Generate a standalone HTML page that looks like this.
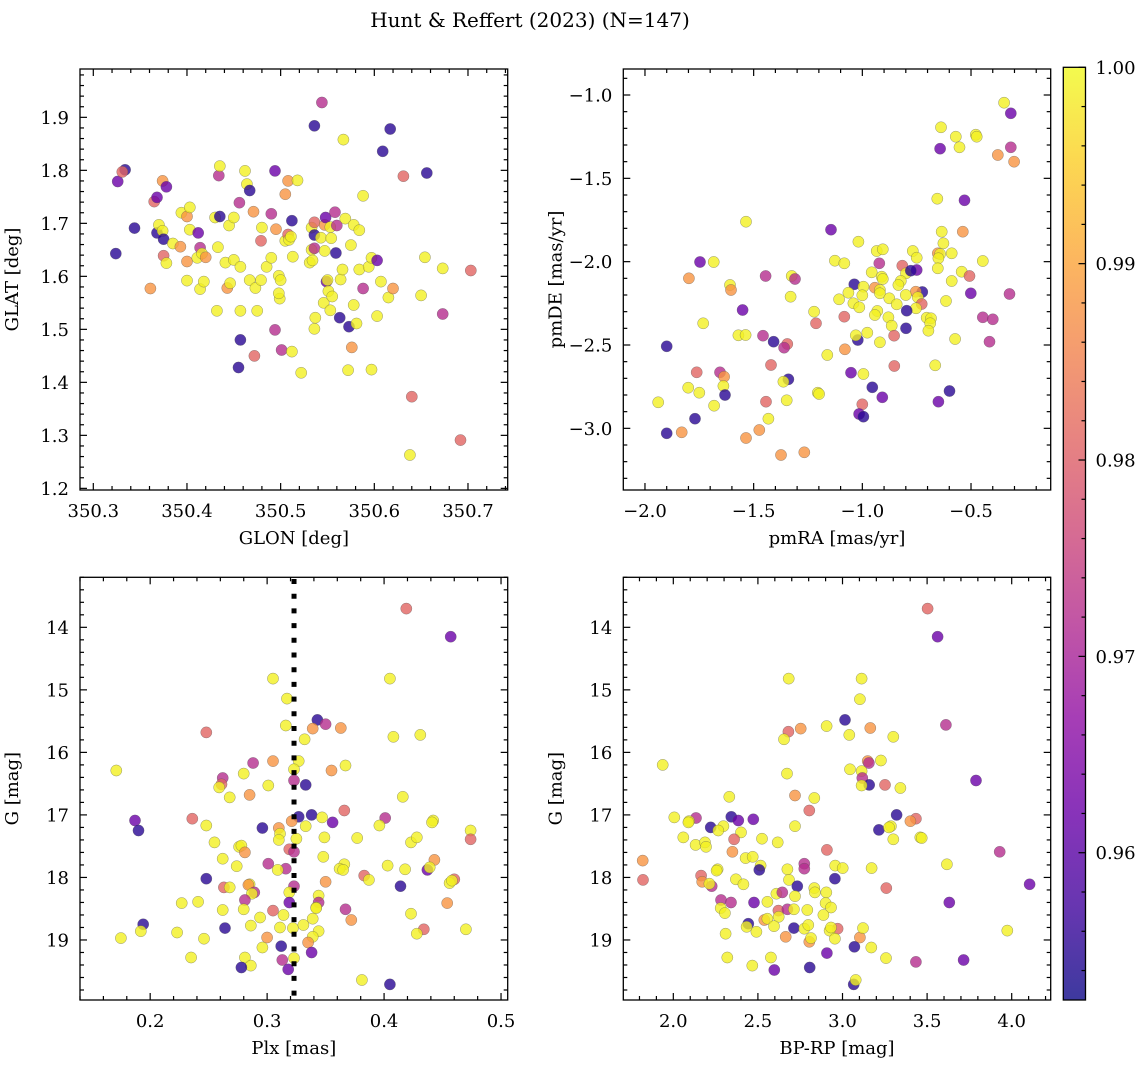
<!DOCTYPE html>
<html><head><meta charset="utf-8"><style>
html,body{margin:0;padding:0;background:#fff;}
svg{display:block;font-family:"DejaVu Serif","Liberation Serif",serif;}
</style></head><body>
<svg id="fig" width="1148" height="1067" viewBox="0 0 1148 1067" xmlns="http://www.w3.org/2000/svg">
<defs>
<linearGradient id="cbgrad" x1="0" y1="1" x2="0" y2="0">
<stop offset="0" stop-color="#0d0887"/><stop offset="0.1" stop-color="#41049d"/><stop offset="0.2" stop-color="#6a00a8"/><stop offset="0.3" stop-color="#8f0da4"/><stop offset="0.4" stop-color="#b12a90"/><stop offset="0.5" stop-color="#cc4778"/><stop offset="0.6" stop-color="#e16462"/><stop offset="0.7" stop-color="#f2844b"/><stop offset="0.8" stop-color="#fca636"/><stop offset="0.9" stop-color="#fcce25"/><stop offset="1" stop-color="#f0f921"/>
</linearGradient>
</defs>
<text x="530" y="27" font-size="20" text-anchor="middle">Hunt &amp; Reffert (2023) (N=147)</text>
</svg>
<script>
// ---- Panel 1: GLON / GLAT ----
const glon=[350.324,350.326,350.334,350.331,350.344,350.361,350.365,350.368,350.368,350.370,350.374,350.378,350.374,350.375,350.375,350.378,350.385,350.393,350.394,350.400,350.403,350.403,350.400,350.400,350.412,350.414,350.414,350.411,350.416,350.418,350.420,350.430,350.432,350.434,350.435,350.433,350.435,350.441,350.443,350.445,350.446,350.450,350.450,350.456,350.457,350.457,350.457,350.455,350.462,350.464,350.467,350.467,350.471,350.472,350.473,350.475,350.479,350.479,350.480,350.485,350.490,350.490,350.494,350.494,350.495,350.498,350.499,350.500,350.498,350.501,350.505,350.505,350.508,350.509,350.511,350.512,350.512,350.513,350.508,350.518,350.522,350.533,350.531,350.533,350.534,350.536,350.536,350.536,350.536,350.537,350.536,350.544,350.543,350.546,350.547,350.548,350.549,350.547,350.550,350.551,350.553,350.554,350.555,350.553,350.558,350.560,350.559,350.563,350.564,350.566,350.567,350.569,350.573,350.575,350.576,350.572,350.578,350.578,350.581,350.584,350.584,350.588,350.588,350.594,350.597,350.597,350.603,350.603,350.607,350.609,350.615,350.617,350.620,350.631,350.640,350.638,350.650,350.654,350.656,350.673,350.673,350.692,350.703];
const glat=[1.643,1.779,1.801,1.797,1.691,1.577,1.741,1.749,1.682,1.697,1.780,1.769,1.686,1.670,1.639,1.625,1.662,1.656,1.720,1.713,1.730,1.688,1.592,1.628,1.682,1.654,1.576,1.635,1.643,1.590,1.636,1.711,1.535,1.790,1.808,1.655,1.713,1.626,1.578,1.696,1.587,1.711,1.631,1.739,1.618,1.535,1.480,1.428,1.799,1.774,1.762,1.593,1.722,1.450,1.578,1.535,1.593,1.667,1.692,1.618,1.635,1.718,1.799,1.499,1.689,1.601,1.558,1.593,1.568,1.461,1.667,1.755,1.679,1.669,1.675,1.705,1.458,1.637,1.780,1.781,1.418,1.692,1.626,1.650,1.630,1.678,1.702,1.653,1.884,1.522,1.501,1.928,1.673,1.550,1.697,1.711,1.590,1.648,1.593,1.572,1.693,1.672,1.562,1.536,1.721,1.696,1.644,1.522,1.594,1.613,1.858,1.709,1.505,1.659,1.466,1.423,1.697,1.546,1.511,1.687,1.613,1.577,1.752,1.618,1.635,1.424,1.630,1.525,1.590,1.836,1.560,1.878,1.577,1.789,1.373,1.263,1.564,1.636,1.795,1.615,1.529,1.291,1.611];
const memb1=[.955,.962,.955,.981,.955,.988,.981,.962,.955,.999,.988,.962,.999,.955,.981,.999,.999,.988,.999,.988,.999,.999,.999,.988,.962,.972,.999,.999,.999,.999,.988,.999,.999,.972,.999,.999,.955,.999,.988,.999,.999,.999,.999,.972,.999,.999,.955,.955,.999,.999,.955,.999,.988,.981,.999,.999,.999,.981,.999,.999,.999,.972,.962,.972,.988,.999,.999,.999,.999,.972,.999,.988,.981,.999,.999,.955,.999,.999,.988,.999,.999,.999,.999,.999,.999,.955,.981,.972,.955,.999,.999,.972,.999,.999,.988,.962,.962,.999,.999,.999,.999,.999,.999,.999,.972,.972,.955,.955,.999,.999,.999,.999,.955,.999,.988,.999,.999,.999,.999,.999,.999,.972,.999,.999,.999,.999,.962,.999,.999,.955,.999,.955,.988,.981,.981,.999,.999,.999,.955,.999,.972,.981,.981];

// ---- Panel 2: pmRA / pmDE ----
const pmra=[-0.348,-0.317,-0.638,-0.570,-0.478,-0.474,-0.553,-0.642,-0.317,-0.377,-0.302,-0.655,-0.530,-1.535,-1.144,-0.635,-0.538,-1.018,-0.627,-0.934,-0.906,-0.768,-0.653,-0.642,-0.589,-0.750,-0.650,-1.747,-1.684,-1.126,-1.083,-0.922,-0.446,-0.816,-0.750,-0.653,-0.799,-0.777,-0.957,-1.798,-1.445,-1.325,-1.310,-1.609,-0.543,-0.507,-0.911,-0.906,-0.823,-0.589,-1.037,-0.995,-0.834,-0.942,-0.919,-1.604,-0.724,-1.064,-0.919,-0.754,-1.330,-1.000,-0.800,-0.745,-1.107,-0.876,-0.501,-0.323,-1.041,-0.842,-0.615,-1.014,-0.727,-0.753,-1.551,-1.222,-0.931,-0.796,-0.942,-1.083,-0.880,-0.704,-0.684,-0.446,-0.400,-1.732,-1.213,-0.688,-0.865,-0.799,-0.696,-1.570,-1.537,-1.457,-0.977,-1.021,-1.030,-0.854,-0.573,-1.408,-1.345,-1.360,-0.919,-0.415,-1.900,-1.161,-1.080,-1.420,-0.853,-0.665,-1.762,-1.655,-1.636,-1.052,-0.995,-1.340,-1.363,-1.639,-1.801,-1.750,-1.632,-1.205,-1.199,-0.954,-0.908,-0.599,-0.650,-1.939,-1.682,-1.443,-1.348,-1.000,-1.015,-0.995,-1.770,-1.432,-1.900,-1.831,-1.474,-1.535,-1.374,-1.267];
const pmde=[-1.046,-1.110,-1.194,-1.250,-1.238,-1.250,-1.314,-1.322,-1.314,-1.360,-1.400,-1.622,-1.632,-1.760,-1.808,-1.820,-1.820,-1.880,-1.890,-1.936,-1.926,-1.936,-1.950,-1.954,-1.950,-1.976,-1.980,-2.002,-2.002,-1.994,-2.010,-2.010,-1.996,-2.024,-2.050,-2.040,-2.070,-2.054,-2.064,-2.100,-2.086,-2.086,-2.104,-2.140,-2.060,-2.086,-2.090,-2.104,-2.116,-2.116,-2.136,-2.150,-2.140,-2.156,-2.170,-2.170,-2.182,-2.186,-2.190,-2.180,-2.210,-2.202,-2.200,-2.214,-2.226,-2.220,-2.190,-2.194,-2.250,-2.256,-2.236,-2.274,-2.254,-2.280,-2.290,-2.300,-2.296,-2.294,-2.320,-2.330,-2.334,-2.336,-2.340,-2.334,-2.346,-2.370,-2.370,-2.370,-2.384,-2.400,-2.414,-2.442,-2.440,-2.444,-2.426,-2.470,-2.442,-2.444,-2.464,-2.480,-2.494,-2.516,-2.484,-2.480,-2.508,-2.560,-2.526,-2.620,-2.626,-2.622,-2.664,-2.664,-2.690,-2.666,-2.674,-2.706,-2.720,-2.746,-2.756,-2.786,-2.800,-2.786,-2.794,-2.754,-2.814,-2.776,-2.840,-2.844,-2.864,-2.840,-2.832,-2.856,-2.914,-2.930,-2.942,-2.942,-3.030,-3.024,-3.010,-3.058,-3.160,-3.144];
const memb2=[.999,.962,.999,.999,.999,.999,.999,.962,.972,.988,.988,.999,.962,.999,.962,.999,.988,.999,.999,.999,.999,.999,.988,.999,.999,.999,.999,.962,.999,.999,.999,.972,.999,.981,.962,.999,.999,.955,.999,.988,.972,.999,.972,.999,.999,.981,.999,.999,.999,.999,.955,.999,.999,.988,.999,.988,.955,.999,.999,.988,.999,.999,.999,.999,.999,.999,.962,.972,.999,.999,.999,.999,.981,.999,.962,.999,.999,.955,.999,.981,.999,.999,.999,.972,.972,.999,.981,.999,.999,.955,.999,.999,.999,.972,.999,.955,.999,.981,.999,.955,.981,.972,.999,.972,.955,.999,.988,.981,.981,.999,.981,.972,.988,.962,.999,.955,.999,.999,.999,.999,.955,.999,.999,.955,.962,.955,.962,.999,.999,.981,.999,.981,.962,.955,.955,.999,.955,.988,.988,.988,.988,.988];

// ---- Panel 3: Plx / G ----
const plx=[0.419,0.457,0.305,0.405,0.317,0.343,0.350,0.339,0.363,0.316,0.248,0.332,0.408,0.431,0.171,0.288,0.305,0.327,0.367,0.323,0.355,0.280,0.262,0.261,0.259,0.323,0.333,0.301,0.268,0.285,0.416,0.366,0.187,0.190,0.236,0.248,0.327,0.321,0.338,0.333,0.347,0.356,0.401,0.396,0.442,0.441,0.474,0.474,0.296,0.310,0.311,0.310,0.325,0.349,0.377,0.255,0.276,0.278,0.281,0.423,0.428,0.319,0.323,0.348,0.262,0.274,0.301,0.316,0.309,0.366,0.362,0.365,0.403,0.443,0.418,0.437,0.439,0.248,0.383,0.387,0.350,0.323,0.414,0.460,0.456,0.458,0.263,0.268,0.285,0.284,0.289,0.287,0.319,0.319,0.344,0.344,0.227,0.241,0.281,0.280,0.262,0.305,0.314,0.342,0.342,0.367,0.372,0.454,0.423,0.194,0.192,0.223,0.264,0.286,0.294,0.311,0.322,0.331,0.339,0.434,0.428,0.175,0.246,0.300,0.344,0.339,0.335,0.470,0.296,0.312,0.338,0.235,0.281,0.286,0.313,0.278,0.318,0.323,0.381,0.405];
const gmag3=[13.70,14.15,14.82,14.82,15.14,15.48,15.55,15.62,15.61,15.57,15.68,15.79,15.75,15.72,16.29,16.17,16.14,16.14,16.21,16.27,16.29,16.34,16.41,16.51,16.56,16.45,16.52,16.53,16.72,16.68,16.71,16.93,17.09,17.25,17.06,17.17,17.03,17.10,17.00,17.18,17.04,17.12,17.05,17.17,17.09,17.12,17.25,17.39,17.21,17.21,17.30,17.40,17.38,17.36,17.37,17.44,17.51,17.49,17.60,17.44,17.36,17.55,17.59,17.67,17.70,17.82,17.78,17.86,17.88,17.79,17.86,17.88,17.81,17.72,17.87,17.88,17.84,18.02,17.97,18.04,18.07,18.14,18.14,18.03,18.09,18.05,18.16,18.16,18.11,18.12,18.24,18.26,18.24,18.40,18.29,18.40,18.41,18.39,18.36,18.51,18.52,18.53,18.60,18.48,18.49,18.51,18.68,18.41,18.58,18.75,18.86,18.88,18.81,18.77,18.64,18.80,18.81,18.76,18.66,18.83,18.90,18.97,18.98,18.96,18.86,18.95,19.04,18.83,19.12,19.10,19.20,19.28,19.28,19.41,19.32,19.44,19.47,19.29,19.64,19.71];
const memb3=[.981,.962,.999,.999,.999,.955,.972,.988,.988,.999,.981,.999,.999,.999,.999,.972,.988,.999,.999,.999,.988,.999,.972,.981,.999,.972,.955,.999,.999,.988,.999,.981,.962,.955,.981,.999,.955,.988,.955,.999,.999,.962,.972,.999,.999,.999,.999,.981,.955,.988,.999,.999,.999,.999,.999,.999,.999,.999,.988,.999,.999,.981,.972,.999,.999,.999,.972,.972,.999,.999,.999,.999,.999,.988,.999,.962,.999,.955,.981,.999,.988,.972,.955,.981,.999,.999,.981,.999,.999,.988,.972,.999,.999,.962,.999,.972,.999,.999,.972,.999,.999,.981,.999,.999,.999,.972,.988,.988,.999,.955,.999,.999,.955,.999,.999,.999,.999,.999,.999,.981,.999,.999,.999,.988,.999,.999,.988,.999,.999,.955,.962,.999,.999,.999,.972,.955,.962,.999,.999,.955];

// ---- Panel 4: BP-RP / G ----
const bprp=[3.503,3.562,2.682,3.113,3.103,3.015,3.611,2.680,2.753,2.654,2.906,3.164,3.040,3.300,1.937,3.149,3.227,3.156,3.044,3.113,2.672,3.117,3.158,3.113,3.251,3.342,3.789,2.719,2.833,2.331,2.804,3.320,2.006,2.134,2.093,2.089,2.343,2.384,2.473,2.221,2.296,2.266,2.400,2.719,3.215,3.286,3.275,3.434,3.401,3.300,3.460,3.468,2.059,2.132,2.187,2.193,2.359,2.524,2.617,2.908,3.929,1.819,2.349,2.427,2.469,2.516,2.508,2.262,2.256,2.674,2.774,2.774,2.957,3.001,3.172,3.617,1.821,2.164,2.171,2.227,2.213,2.370,2.414,2.684,2.733,2.955,2.833,2.837,2.904,3.259,4.106,2.282,2.341,2.280,2.305,2.477,2.556,2.609,2.644,2.719,2.900,2.932,3.631,2.621,2.674,2.713,2.792,2.887,2.443,2.433,2.491,2.538,2.556,2.623,2.595,2.713,2.774,2.798,2.804,2.814,2.971,2.924,2.932,2.955,3.103,3.121,2.309,2.664,3.070,3.170,3.974,2.908,2.319,2.577,2.467,2.597,2.806,3.257,3.434,3.716,3.066,3.078];
const gmag4=[13.70,14.15,14.82,14.82,15.15,15.48,15.56,15.67,15.62,15.79,15.58,15.61,15.72,15.75,16.20,16.14,16.13,16.17,16.27,16.30,16.34,16.41,16.52,16.53,16.52,16.57,16.45,16.69,16.73,16.71,16.93,17.00,17.04,17.05,17.10,17.12,17.03,17.09,17.07,17.20,17.18,17.25,17.28,17.18,17.24,17.18,17.20,17.06,17.10,17.39,17.36,17.37,17.36,17.48,17.44,17.51,17.39,17.38,17.44,17.56,17.59,17.73,17.59,17.69,17.67,17.81,17.88,17.87,17.89,17.87,17.78,17.86,17.81,17.85,17.85,17.79,18.04,17.97,18.07,18.14,18.10,18.03,18.11,18.04,18.14,18.02,18.17,18.24,18.24,18.17,18.11,18.36,18.40,18.49,18.57,18.40,18.39,18.26,18.24,18.30,18.41,18.48,18.40,18.53,18.51,18.51,18.52,18.60,18.74,18.79,18.87,18.68,18.66,18.63,18.78,18.81,18.82,18.76,19.03,18.97,18.82,18.85,18.80,18.98,18.96,18.81,18.90,18.95,19.11,19.12,18.85,19.21,19.28,19.28,19.41,19.48,19.44,19.29,19.35,19.32,19.71,19.64];
const memb4=[.981,.962,.999,.999,.999,.955,.972,.981,.988,.999,.999,.988,.999,.999,.999,.988,.999,.972,.999,.999,.999,.972,.955,.999,.981,.999,.962,.988,.999,.999,.981,.955,.999,.972,.999,.999,.955,.962,.962,.955,.999,.999,.999,.999,.955,.999,.999,.981,.988,.999,.999,.999,.999,.999,.999,.999,.981,.999,.999,.981,.972,.988,.988,.999,.999,.999,.955,.999,.999,.999,.972,.972,.999,.999,.999,.999,.981,.981,.988,.972,.999,.999,.999,.999,.955,.955,.999,.999,.999,.981,.962,.972,.972,.999,.999,.962,.999,.999,.972,.999,.999,.999,.962,.981,.972,.999,.999,.999,.955,.999,.999,.988,.999,.999,.999,.955,.999,.999,.988,.999,.981,.999,.999,.999,.988,.999,.999,.988,.955,.999,.999,.962,.999,.999,.999,.962,.955,.999,.972,.962,.955,.999];

const plxRef=[0.323];
const cbTicks=[0.96,0.97,0.98,0.99,1.00];
const cMin=0.9525, cMax=1.0;

const NS='http://www.w3.org/2000/svg';
const svg=document.getElementById('fig');
function mk(tag,attrs,parent){const e=document.createElementNS(NS,tag);for(const k in attrs)e.setAttribute(k,attrs[k]);(parent||svg).appendChild(e);return e;}
const stops=[[13,8,135],[65,4,157],[106,0,168],[143,13,164],[177,42,144],[204,71,120],[225,100,98],[242,132,75],[252,166,54],[252,206,37],[240,249,33]];
function plasma(v){let t=(v-cMin)/(cMax-cMin);t=Math.max(0,Math.min(1,t))*10;const i=Math.min(9,Math.floor(t)),f=t-i;const a=stops[i],b=stops[i+1];return 'rgb('+[0,1,2].map(j=>Math.round(a[j]+(b[j]-a[j])*f)).join(',')+')';}
function fmt(v,d){const s=Math.abs(v).toFixed(d);return (v<-1e-9?'\u2212':'')+s;}
function isMult(v,s){return Math.abs(Math.round(v/s)*s-v)<1e-7;}

function panel(o){
  const g=mk('g',{});
  
  
  const sx=v=>o.L+(v-o.xmin)/(o.xmax-o.xmin)*(o.R-o.L);
  const sy=o.inv?(v=>o.T+(v-o.ymin)/(o.ymax-o.ymin)*(o.B-o.T)):(v=>o.B-(v-o.ymin)/(o.ymax-o.ymin)*(o.B-o.T));
  o.sx=sx;o.sy=sy;
  const pts=mk('g',{},g);
  
  
  for(let i=0;i<o.xs.length;i++){
    const c=mk('circle',{cx:sx(o.xs[i]).toFixed(1),cy:sy(o.ys[i]).toFixed(1),r:5.6,fill:plasma(o.ms[i]),'fill-opacity':0.8,stroke:'#555','stroke-opacity':0.6,'stroke-width':0.5},pts);
    
    
  }
  if(o.extra)o.extra(g,sx,sy);
  // ticks x
  const tg=mk('g',{stroke:'#000','stroke-width':1.2},g);
  const n0=Math.ceil(o.xmin/o.xminor-1e-9),n1=Math.floor(o.xmax/o.xminor+1e-9);
  for(let k=n0;k<=n1;k++){const v=k*o.xminor;const maj=isMult(v,o.xmajor);const len=maj?7:4;const x=sx(v);
    mk('line',{x1:x,y1:o.B,x2:x,y2:o.B-len},tg);mk('line',{x1:x,y1:o.T,x2:x,y2:o.T+len},tg);
    if(maj){const t=mk('text',{x:x,y:o.B+27,'font-size':18,'text-anchor':'middle',stroke:'none',fill:'#000'},g);t.textContent=fmt(v,o.xd);
      }
  }
  const m0=Math.ceil(o.ymin/o.yminor-1e-9),m1=Math.floor(o.ymax/o.yminor+1e-9);
  for(let k=m0;k<=m1;k++){const v=k*o.yminor;const maj=isMult(v,o.ymajor);const len=maj?7:4;const y=sy(v);
    mk('line',{x1:o.L,y1:y,x2:o.L+len,y2:y},tg);mk('line',{x1:o.R,y1:y,x2:o.R-len,y2:y},tg);
    if(maj){const t=mk('text',{x:o.L-11,y:y+6.5,'font-size':18,'text-anchor':'end',stroke:'none',fill:'#000'},g);t.textContent=fmt(v,o.yd);
      }
  }
  const fr=mk('rect',{x:o.L,y:o.T,width:o.R-o.L,height:o.B-o.T,fill:'none',stroke:'#000','stroke-width':1.3},g);
  
  const xl=mk('text',{x:(o.L+o.R)/2,y:o.B+54,'font-size':18,'text-anchor':'middle'},g);xl.textContent=o.xlabel;
  
  const yx=o.L-62,yy=(o.T+o.B)/2;
  const yl=mk('text',{x:yx,y:yy,'font-size':18,'text-anchor':'middle',transform:'rotate(-90 '+yx+' '+yy+')'},g);yl.textContent=o.ylabel;
  
}

panel({name:'glon-glat-panel',L:80,R:507.7,T:69,B:490,xmin:350.2858,xmax:350.7424,ymin:1.1969,ymax:1.9912,xs:glon,ys:glat,ms:memb1,xmajor:0.1,xminor:0.02,ymajor:0.1,yminor:0.02,xd:1,yd:1,xlabel:'GLON [deg]',ylabel:'GLAT [deg]'});
panel({name:'pm-panel',L:623.3,R:1050.7,T:69,B:490,xmin:-2.0997,xmax:-0.1334,ymin:-3.37,ymax:-0.844,xs:pmra,ys:pmde,ms:memb2,xmajor:0.5,xminor:0.1,ymajor:0.5,yminor:0.1,xd:1,yd:1,xlabel:'pmRA [mas/yr]',ylabel:'pmDE [mas/yr]'});
panel({name:'plx-g-panel',L:80,R:507.7,T:577.3,B:1000,inv:true,xmin:0.140,xmax:0.5057,ymin:13.2,ymax:19.96,xs:plx,ys:gmag3,ms:memb3,xmajor:0.1,xminor:0.02,ymajor:1,yminor:0.2,xd:1,yd:0,xlabel:'Plx [mas]',ylabel:'G [mag]',
  extra:(g,sx,sy)=>{for(const v of plxRef){const l=mk('line',{x1:sx(v),y1:579,x2:sx(v),y2:1000,stroke:'#000','stroke-width':5,'stroke-dasharray':'5,9.7'},g);
    }}});
panel({name:'cmd-panel',L:623.3,R:1050.7,T:577.3,B:1000,inv:true,xmin:1.7044,xmax:4.2305,ymin:13.2,ymax:19.96,xs:bprp,ys:gmag4,ms:memb4,xmajor:0.5,xminor:0.1,ymajor:1,yminor:0.2,xd:1,yd:0,xlabel:'BP-RP [mag]',ylabel:'G [mag]'});

// colorbar
const cb=mk('g',{});


const cL=1063.3,cR=1085.5,cT=67.3,cB=1000;
mk('rect',{x:cL,y:cT,width:cR-cL,height:cB-cT,fill:'url(#cbgrad)','fill-opacity':0.8},cb);
mk('rect',{x:cL,y:cT,width:cR-cL,height:cB-cT,fill:'none',stroke:'#000','stroke-width':1.3},cb);
const cy=v=>cB-(v-cMin)/(cMax-cMin)*(cB-cT);
for(let k=Math.ceil(cMin/0.002-1e-9);k<=Math.floor(cMax/0.002+1e-9);k++){const v=k*0.002;const maj=isMult(v,0.01);const y=cy(v);
  mk('line',{x1:cR,y1:y,x2:cR-(maj?7:4),y2:y,stroke:'#000','stroke-width':1.2},cb);}
for(const v of cbTicks){const t=mk('text',{x:cR+10,y:cy(v)+6.5,'font-size':18},cb);t.textContent=v.toFixed(2);
  }
</script>
</body></html>
